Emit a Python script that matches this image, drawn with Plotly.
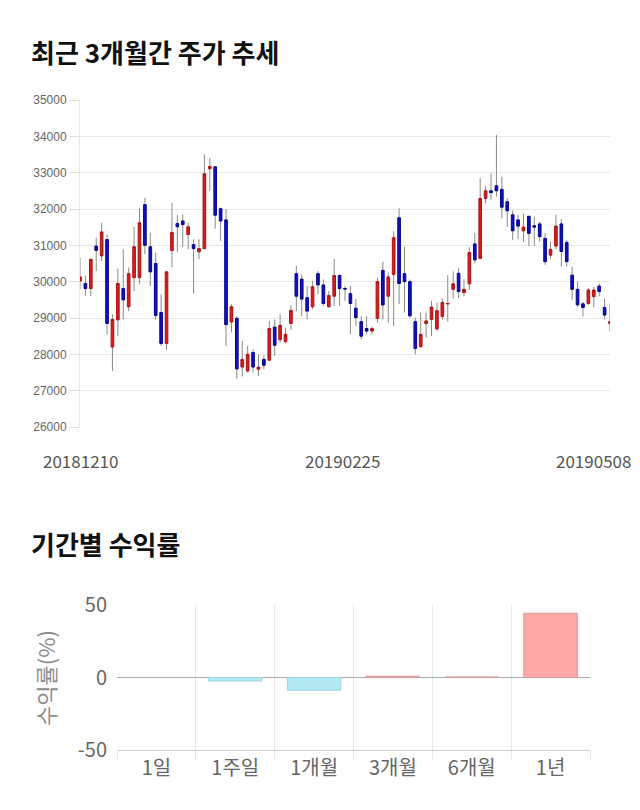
import plotly.graph_objects as go

# ---- candlestick data (daily, 20181210 .. 20190508) ----
opens = [30020, 29950, 29810, 30980, 30710, 31160, 28200, 28950, 29810, 29310,
         30110, 30110, 32120, 30960, 30500, 29150, 28300, 30860, 31600, 31670,
         31300, 31020, 30820, 30910, 33110, 33160, 32010, 31700, 28890, 28990,
         27650, 27540, 28050, 27590, 27860, 27840, 28750, 28400, 28350, 28850,
         30220, 30070, 29560, 29310, 30220, 29910, 29310, 29600, 30170, 29810,
         29670, 29270, 28900, 28710, 28640, 28990, 30310, 29600, 30200, 31760,
         30220, 30000, 28900, 28210, 28850, 28960, 28700, 29040, 29390, 29790,
         30230, 29700, 29940, 31040, 30640, 32290, 32500, 32640, 32540, 32200,
         31840, 31700, 31400, 31800, 31540, 31590, 31190, 30730, 30980, 31590,
         31080, 30180, 29790, 29390, 29400, 29590, 29880, 29290, 28850]
highs = [30660, 30160, 30660, 31210, 31620, 31300, 29100, 30360, 30890, 30390,
         31510, 32020, 32310, 31350, 30800, 29650, 30290, 32170, 31830, 31850,
         31620, 31170, 31170, 33500, 33410, 33180, 32040, 32000, 29380, 29050,
         28370, 28230, 28140, 28000, 27970, 28920, 28960, 29100, 28730, 29360,
         30430, 30200, 29880, 30020, 30290, 30060, 29740, 30630, 30200, 29880,
         29880, 29530, 29050, 29050, 28760, 30110, 30550, 30250, 31390, 32020,
         30960, 30060, 29010, 29150, 29150, 29470, 29420, 29540, 30180, 30280,
         30380, 30070, 30950, 31350, 32850, 32630, 32980, 34040, 32890, 32300,
         31960, 31840, 31880, 31810, 31790, 31650, 31330, 31100, 31840, 31720,
         31150, 30410, 30000, 29450, 29820, 29850, 29950, 29540, 29400]
lows = [29790, 29610, 29600, 30290, 30570, 28550, 27540, 28500, 28960, 29190,
        29740, 29930, 30750, 29880, 28960, 28230, 28120, 30400, 30820, 30960,
        30890, 29670, 30620, 30890, 32500, 31460, 31120, 28230, 28600, 27330,
        27390, 27500, 27500, 27400, 27590, 27820, 27950, 28320, 28300, 28670,
        29190, 29050, 28960, 29240, 29650, 29330, 29280, 29330, 29330, 29470,
        28550, 28780, 28410, 28550, 28550, 28870, 28960, 28870, 28780, 29380,
        29150, 29010, 28000, 28180, 28460, 28500, 28640, 28950, 28900, 29540,
        29550, 29600, 29770, 30500, 30620, 32160, 32250, 32340, 31740, 31510,
        31150, 31170, 31100, 30980, 30980, 31100, 30460, 30620, 30890, 30410,
        30410, 29500, 29310, 29040, 29360, 29300, 29600, 28960, 28620]
closes = [30130, 29810, 30610, 30860, 31370, 28850, 28960, 29950, 29500, 30220,
          30960, 31620, 31000, 30270, 29070, 28300, 30270, 31350, 31510, 31570,
          31510, 30910, 30910, 32970, 33170, 31830, 31670, 28820, 29310, 27600,
          27860, 28000, 27650, 27650, 27700, 28710, 28250, 28800, 28550, 29210,
          29600, 29520, 29190, 29860, 29910, 29400, 29620, 30170, 29810, 29800,
          29400, 29010, 28500, 28640, 28710, 30000, 29360, 30130, 31210, 29950,
          30000, 29060, 28160, 28550, 28920, 29300, 29200, 29430, 29400, 29940,
          29730, 29790, 30800, 30600, 32290, 32500, 32450, 32500, 32050, 31950,
          31400, 31530, 31500, 31330, 31500, 31240, 30550, 30890, 31530, 30830,
          30550, 29790, 29360, 29290, 29770, 29770, 29730, 29080, 28900]
date_labels = ["20181210", "20190225", "20190508"]
date_label_idx = [0, 49, 98]
price_ticks = [26000, 27000, 28000, 29000, 30000, 31000, 32000, 33000, 34000, 35000]

# ---- period returns ----
periods = ["1일", "1주일", "1개월", "3개월", "6개월", "1년"]
returns = [0.0, -2.4, -8.8, 0.9, 0.4, 44.3]
return_ticks = [-50, 0, 50]
return_tick_text = ["-50", "0", "50"]

W, H = 640, 810
def px(x):
    return x / W
def py(y):
    return 1 - y / H

idx = list(range(len(opens)))
mids = [(o + c) / 2 for o, c in zip(opens, closes)]
body_hi = [max(o, c) for o, c in zip(opens, closes)]
body_lo = [min(o, c) for o, c in zip(opens, closes)]

RED, RED_LINE = "#D51F1F", "#B01212"
BLUE, BLUE_LINE = "#1111C4", "#06068F"
KFONT = "Noto Sans CJK KR"

fig = go.Figure()
# wicks (grey)
fig.add_trace(go.Candlestick(
    x=idx, open=mids, high=highs, low=lows, close=mids,
    increasing=dict(line=dict(color="#8a8a8a", width=1), fillcolor="#8a8a8a"),
    decreasing=dict(line=dict(color="#8a8a8a", width=1), fillcolor="#8a8a8a"),
    whiskerwidth=0, hoverinfo="skip", showlegend=False,
    xaxis="x", yaxis="y"))
# bodies
fig.add_trace(go.Candlestick(
    x=idx, open=opens, high=body_hi, low=body_lo, close=closes,
    increasing=dict(line=dict(color=RED_LINE, width=1), fillcolor=RED),
    decreasing=dict(line=dict(color=BLUE_LINE, width=1), fillcolor=BLUE),
    whiskerwidth=0, showlegend=False,
    xaxis="x", yaxis="y"))

bar_colors = ["#FFA6A6" if v >= 0 else "#B3EAF2" for v in returns]
bar_lines = ["#D99A9A" if v >= 0 else "#9DD6E0" for v in returns]
bar_line_w = [1 if v != 0 else 0 for v in returns]
fig.add_trace(go.Bar(
    x=periods, y=returns,
    marker=dict(color=bar_colors, line=dict(color=bar_lines, width=bar_line_w)),
    width=0.68, showlegend=False, xaxis="x2", yaxis="y2"))

annotations = [
    dict(text="<b>최근 3개월간 주가 추세</b>", x=px(29), y=py(51), xref="paper", yref="paper",
         xanchor="left", yanchor="middle", showarrow=False,
         font=dict(family=KFONT, size=26, color="#111111")),
    dict(text="<b>기간별 수익률</b>", x=px(29), y=py(543), xref="paper", yref="paper",
         xanchor="left", yanchor="middle", showarrow=False,
         font=dict(family=KFONT, size=26, color="#111111")),
    dict(text="수익률(%)", x=px(45), y=py(678), xref="paper", yref="paper",
         xanchor="center", yanchor="middle", showarrow=False, textangle=-90,
         font=dict(family=KFONT, size=22, color="#8c8c8c")),
]
shifts = [0, -3, -17]
for lab, i, s in zip(date_labels, date_label_idx, shifts):
    annotations.append(dict(text=lab, x=i, y=py(461), xref="x", yref="paper",
                            xanchor="center", yanchor="middle", xshift=s, showarrow=False,
                            font=dict(family=KFONT, size=17, color="#555555")))

fig.update_layout(
    width=W, height=H, margin=dict(l=0, r=0, t=0, b=0, pad=0, autoexpand=False),
    paper_bgcolor="white", plot_bgcolor="white",
    font=dict(family=KFONT),
    xaxis=dict(domain=[px(80), px(610)], range=[0, len(opens) - 1], showgrid=False,
               zeroline=False, showticklabels=False, ticks="", showline=False,
               rangeslider=dict(visible=False), fixedrange=True, automargin=False),
    yaxis=dict(domain=[py(427), py(100)], range=[26000, 35000], tickvals=price_ticks,
               tickformat="d", showgrid=True, gridcolor="#e8e8e8", gridwidth=1,
               zeroline=False, showline=True, linecolor="#e8e8e8",
               ticks="outside", ticklen=10, tickcolor="#e0e0e0", automargin=False,
               tickfont=dict(family="Liberation Sans", size=12, color="#666666")),
    xaxis2=dict(domain=[px(117), px(590)], anchor="y2", type="category",
                tickson="boundaries", showgrid=True, gridcolor="#e8e8e8",
                ticks="outside", ticklen=10, tickcolor="#e8e8e8",
                showline=True, linecolor="#d0d0d0", automargin=False,
                tickfont=dict(family=KFONT, size=20, color="#666666")),
    yaxis2=dict(domain=[py(750), py(605)], anchor="x2", range=[-50, 50],
                tickvals=return_ticks, ticktext=return_tick_text,
                showgrid=True, gridcolor="#e8e8e8",
                zeroline=True, zerolinecolor="#aaaaaa", zerolinewidth=1,
                ticks="", ticklabelstandoff=9, automargin=False,
                tickfont=dict(family=KFONT, size=20, color="#666666")),
    annotations=annotations,
    bargap=0.32,
)

fig.write_html("out.html")
